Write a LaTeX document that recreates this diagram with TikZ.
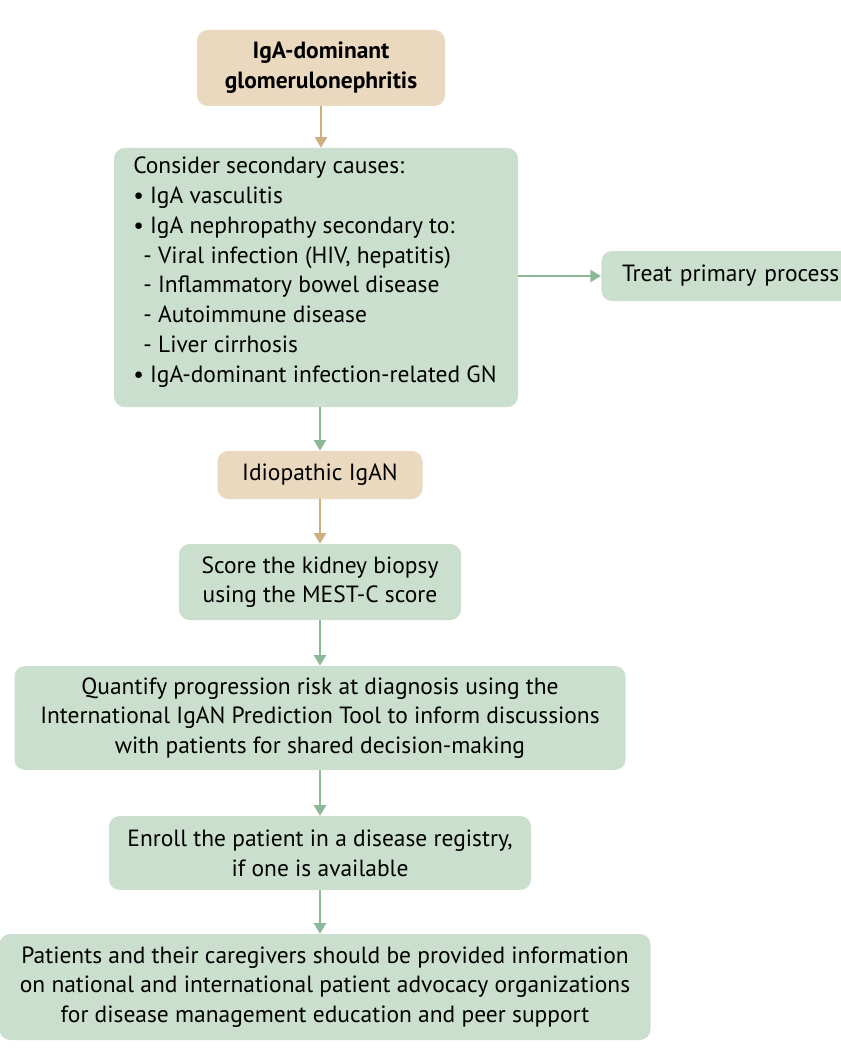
\documentclass[tikz,border=0pt]{standalone}
\usepackage{fontspec}
\setmainfont{PT Sans}
\usetikzlibrary{arrows.meta}
\definecolor{tanbox}{HTML}{EAD9BF}
\definecolor{grnbox}{HTML}{CBDFCE}
\definecolor{tanarr}{HTML}{CFAE80}
\definecolor{grnarr}{HTML}{8DB898}
\begin{document}
\begin{tikzpicture}[x=0.75pt,y=-0.75pt,
  fs/.style={font=\fontsize{17.6}{22.3}\selectfont},
  box/.style={rounded corners=8pt,inner sep=0pt,fs,text=black},
  tb/.style={box,fill=tanbox},
  gb/.style={box,fill=grnbox},
  ta/.style={draw=tanarr,line width=1.8pt,-{Triangle[length=8pt,width=9pt]}},
  ga/.style={draw=grnarr,line width=1.8pt,-{Triangle[length=8pt,width=9pt]}}]
\useasboundingbox (0,0) rectangle (840,1052);
\node[tb,minimum width=248*0.75pt,minimum height=76*0.75pt,align=center,font=\fontsize{17.6}{22.3}\selectfont\bfseries] (a) at (321,68) {IgA-dominant\\glomerulonephritis};
\node[gb,minimum width=404*0.75pt,minimum height=259*0.75pt] (b) at (316,277.5) {};
\node[anchor=north west,align=left,inner sep=0pt,fs] at (133,157) {Consider secondary causes:\\
• IgA vasculitis\\
• IgA nephropathy secondary to:\\
\ \,- Viral infection (HIV, hepatitis)\\
\ \,- Inflammatory bowel disease\\
\ \,- Autoimmune disease\\
\ \,- Liver cirrhosis\\
• IgA-dominant infection-related GN};
\node[gb,minimum width=250*0.75pt,minimum height=50*0.75pt,anchor=west,text width=235*0.75pt,align=left] (c) at (601,276) {\hspace*{10pt}Treat primary process};
\node[tb,minimum width=205*0.75pt,minimum height=48*0.75pt] (d) at (320,475) {Idiopathic IgAN};
\node[gb,minimum width=282*0.75pt,minimum height=76*0.75pt,align=center] (e) at (320,582) {Score the kidney biopsy\\using the MEST-C score};
\node[gb,minimum width=611*0.75pt,minimum height=104*0.75pt,align=center] (f) at (320,718) {Quantify progression risk at diagnosis using the\\International IgAN Prediction Tool to inform discussions\\with patients for shared decision-making};
\node[gb,minimum width=422*0.75pt,minimum height=74*0.75pt,align=center] (g) at (320,853) {Enroll the patient in a disease registry,\\if one is available};
\node[gb,minimum width=651*0.75pt,minimum height=106*0.75pt,align=center] (h) at (325,987) {Patients and their caregivers should be provided information\\on national and international patient advocacy organizations\\for disease management education and peer support};
\draw[ta] (a) -- (a|-b.north);
\draw[ga] (d|-b.south) -- (d);
\draw[ta] (d) -- (e);
\draw[ga] (e) -- (f);
\draw[ga] (f) -- (g);
\draw[ga] (g) -- (g|-h.north);
\draw[ga] (b.east |- c.west) -- (c.west);
\end{tikzpicture}
\end{document}
